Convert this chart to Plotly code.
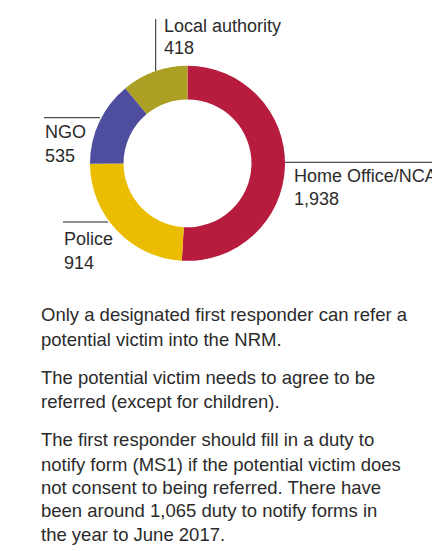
import plotly.graph_objects as go

W, H = 432, 551

# Data
labels = ["Home Office/NCA", "Police", "NGO", "Local authority"]
values = [1938, 914, 535, 418]
colors = ["#B71C3E", "#EBBD00", "#4F4E9E", "#ABA023"]

body_lines = [
    "Only a designated first responder can refer a",
    "potential victim into the NRM.",
    "The potential victim needs to agree to be",
    "referred (except for children).",
    "The first responder should fill in a duty to",
    "notify form (MS1) if the potential victim does",
    "not consent to being referred. There have",
    "been around 1,065 duty to notify forms in",
    "the year to June 2017.",
]

# Layout (pixel positions)
label_pos = {  # left x, baseline of name, baseline of value
    "Home Office/NCA": (293, 181.7, 205.0),
    "Police": (63, 245.0, 268.5),
    "NGO": (44, 138.3, 162.3),
    "Local authority": (163, 32.0, 54.5),
}
leader_lines = {  # x0, y0, x1, y1
    "Home Office/NCA": (285, 162.3, 440, 162.3),
    "Police": (63, 222, 108, 222),
    "NGO": (44, 117.7, 100, 117.7),
    "Local authority": (155.7, 19, 155.7, 71),
}
body_baselines = [320.7, 345.0, 383.3, 407.3, 445.7, 470.0, 493.3, 516.7, 540.7]

FONT = "Liberation Sans, Arial, Helvetica, sans-serif"
TXT = "#2b2b2b"

px = lambda x: x / W
py = lambda y: 1 - y / H

fig = go.Figure(go.Pie(
    labels=labels, values=values, sort=False, direction="clockwise", rotation=0,
    hole=0.656, marker=dict(colors=colors, line=dict(width=0)),
    textinfo="none", hoverinfo="label+value",
    domain=dict(x=[px(90), px(285)], y=[py(261), py(65.7)]),
))

annotations = []
shapes = []
for lab, val in zip(labels, values):
    x, b1, b2 = label_pos[lab]
    for txt, b in ((lab, b1), (f"{val:,}", b2)):
        annotations.append(dict(
            x=px(x), y=py(b - 6), xref="paper", yref="paper", text=txt,
            showarrow=False, xanchor="left", yanchor="middle",
            font=dict(family=FONT, size=18, color=TXT), borderpad=0,
        ))
    x0, y0, x1, y1 = leader_lines[lab]
    shapes.append(dict(type="line", xref="paper", yref="paper",
                       x0=px(x0), y0=py(y0), x1=px(x1), y1=py(y1),
                       line=dict(color="#222222", width=1)))

for txt, b in zip(body_lines, body_baselines):
    annotations.append(dict(
        x=px(40), y=py(b - 6), xref="paper", yref="paper", text=txt,
        showarrow=False, xanchor="left", yanchor="middle",
        font=dict(family=FONT, size=18.5, color=TXT), borderpad=0,
    ))

fig.update_layout(
    width=W, height=H, margin=dict(l=0, r=0, t=0, b=0),
    paper_bgcolor="white", plot_bgcolor="white", showlegend=False,
    annotations=annotations, shapes=shapes,
)

fig.write_html("out.html", config={"displayModeBar": False})
